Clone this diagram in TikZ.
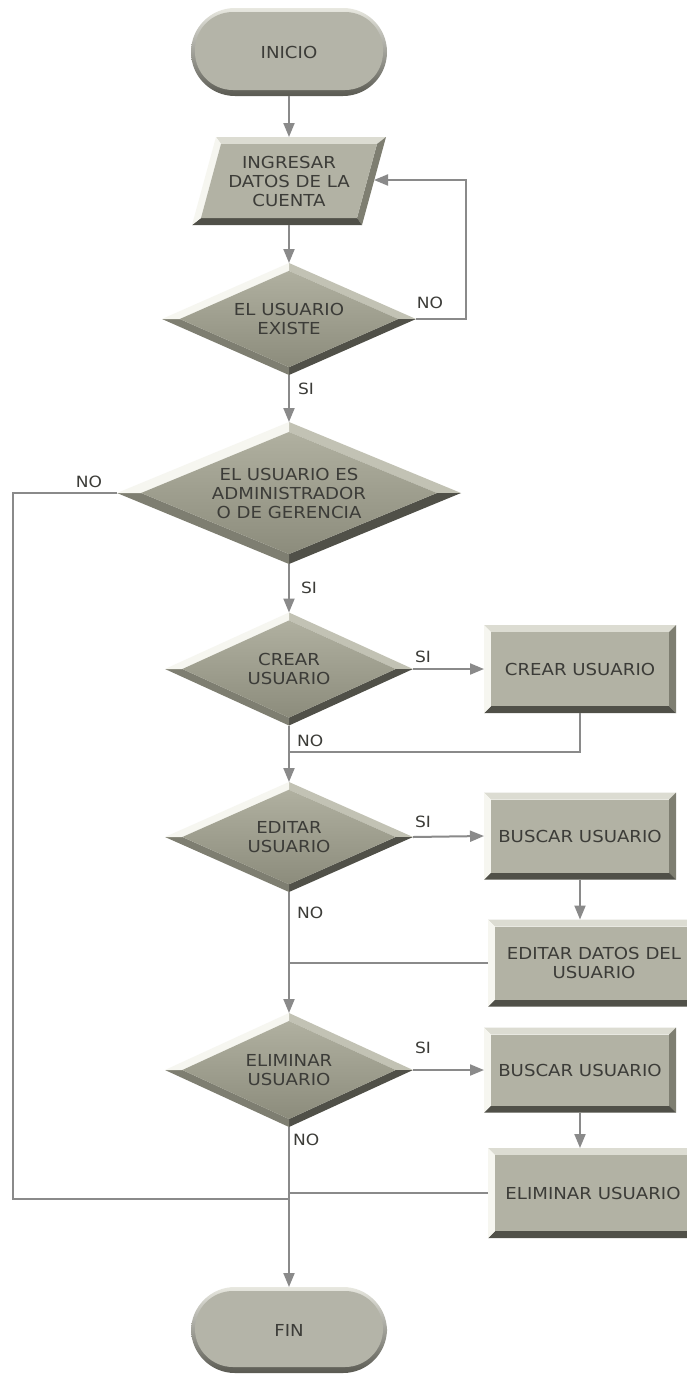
\documentclass[tikz,border=0pt]{standalone}
\usepackage{fontspec}
\setmainfont{DejaVu Sans}[FakeStretch=1.1]
\usetikzlibrary{arrows.meta,calc,backgrounds}

\definecolor{lineg}{HTML}{8A8A8A}
\definecolor{txt}{HTML}{3C3C38}
\definecolor{rectin}{HTML}{B2B2A4}
\definecolor{diatop}{HTML}{B0B0A0}
\definecolor{diabot}{HTML}{8C8C7C}
\definecolor{bvlight}{HTML}{F6F6F0}
\definecolor{bvtop}{HTML}{DCDCD2}
\definecolor{bvmid}{HTML}{C2C2B4}
\definecolor{bvmd}{HTML}{7E7E71}
\definecolor{bvdark}{HTML}{66665C}
\definecolor{bvdarker}{HTML}{505048}
\definecolor{termhi}{HTML}{E8E8E0}
\definecolor{termlo}{HTML}{5A5A52}
\definecolor{termin}{HTML}{B4B4A8}

% four bevel faces around an inner face: top, right, bottom, left, inner
\newcommand\facefill[5]{%
  \fill[#1] (bA)--(bB)--(bb)--(ba)--cycle;
  \fill[#2] (bB)--(bC)--(bc)--(bb)--cycle;
  \fill[#3] (bC)--(bD)--(bd)--(bc)--cycle;
  \fill[#4] (bD)--(bA)--(ba)--(bd)--cycle;
  \path[#5] (ba)--(bb)--(bc)--(bd)--cycle;}

\newcommand\rectbevel[1]{%
  \coordinate (bA) at (#1.north west); \coordinate (bB) at (#1.north east);
  \coordinate (bC) at (#1.south east); \coordinate (bD) at (#1.south west);
  \coordinate (ba) at ($(bA)+(7,7)$);  \coordinate (bb) at ($(bB)+(-7,7)$);
  \coordinate (bc) at ($(bC)+(-7,-7)$); \coordinate (bd) at ($(bD)+(7,-7)$);
  \facefill{bvtop}{bvmd}{bvdarker}{bvlight}{fill=rectin}}

\newcommand\diabevel[1]{%
  \coordinate (bA) at (#1.north); \coordinate (bB) at (#1.east);
  \coordinate (bC) at (#1.south); \coordinate (bD) at (#1.west);
  \coordinate (ba) at ($(#1.center)!0.86!(#1.north)$);
  \coordinate (bb) at ($(#1.center)!0.86!(#1.east)$);
  \coordinate (bc) at ($(#1.center)!0.86!(#1.south)$);
  \coordinate (bd) at ($(#1.center)!0.86!(#1.west)$);
  \facefill{bvmid}{bvdarker}{bvmd}{bvlight}{top color=diatop,bottom color=diabot}}

\newcommand\parabevel[1]{%
  \coordinate (bA) at ($(#1.north west)+(24,0)$); \coordinate (bB) at (#1.north east);
  \coordinate (bC) at ($(#1.south east)+(-24,0)$); \coordinate (bD) at (#1.south west);
  \coordinate (ba) at ($(bA)+(5,7)$);  \coordinate (bb) at ($(bB)+(-9,7)$);
  \coordinate (bc) at ($(bC)+(-5,-7)$); \coordinate (bd) at ($(bD)+(9,-7)$);
  \facefill{bvtop}{bvmd}{bvdarker}{bvlight}{fill=rectin}}

\newcommand\termshape[1]{%
  \shade[top color=termhi,bottom color=termlo,rounded corners=44pt]
    (#1.north west) rectangle (#1.south east);
  \fill[termin,rounded corners=38pt]
    ($(#1.north west)+(4,4)$) rectangle ($(#1.south east)+(-4,-6)$);}

\begin{document}
\begin{tikzpicture}[x=1pt,y=-1pt,
  every node/.style={inner sep=0pt,outer sep=0pt,text=txt,align=center,
    font=\fontsize{16.5}{19}\selectfont},
  sz/.style 2 args={minimum width=#1pt,minimum height=#2pt},
  lbl/.style={font=\fontsize{15.5}{18}\selectfont},
  ln/.style={draw=lineg,line width=2pt},
  arr/.style={ln,-{Triangle[length=14pt,width=11pt]},lineg}]

\useasboundingbox (0,0) rectangle (686,1374);

% shapes (text holders)
\node[sz={196}{88}] (ini) at (289,52) {INICIO};
\node[sz={194}{88}] (dat) at (289,181) {INGRESAR\\DATOS DE LA\\CUENTA};
\node[sz={254}{112}] (d1) at (289,319) {EL USUARIO\\EXISTE};
\node[sz={344}{142}] (d2) at (289,493) {EL USUARIO ES\\ADMINISTRADOR\\O DE GERENCIA};
\node[sz={248}{113}] (d3) at (289,669) {CREAR\\USUARIO};
\node[sz={192}{88}] (b1) at (580,669) {CREAR USUARIO};
\node[sz={248}{110}] (d4) at (289,837) {EDITAR\\USUARIO};
\node[sz={192}{87}] (b2) at (580,836) {BUSCAR USUARIO};
\node[sz={212}{87}] (b3) at (594,963) {EDITAR DATOS DEL\\USUARIO};
\node[sz={248}{114}] (d5) at (289,1070) {ELIMINAR\\USUARIO};
\node[sz={192}{85}] (b4) at (580,1070) {BUSCAR USUARIO};
\node[sz={210}{90}] (b5) at (593,1193) {ELIMINAR USUARIO};
\node[sz={196}{86}] (fin) at (289,1330) {FIN};

\begin{scope}[on background layer]
  \fill[white] (0,0) rectangle (686,1374);
  \termshape{ini}
  \termshape{fin}
  \parabevel{dat}
  \diabevel{d1}
  \diabevel{d2}
  \diabevel{d3}
  \diabevel{d4}
  \diabevel{d5}
  \rectbevel{b1}
  \rectbevel{b2}
  \rectbevel{b3}
  \rectbevel{b4}
  \rectbevel{b5}
\end{scope}

% junction points on the main vertical line
\coordinate (datR) at ($(dat.east)+(-12,-1)$);
\coordinate (jB) at (289,752);
\coordinate (jA) at (289,1199);

% connectors
\draw[arr] (ini.south) -- (ini.south |- dat.north);
\draw[arr] (dat.south) -- (d1.north);
\draw[arr] (d1.east) -- ++(50,0) |- (datR);
\draw[arr] (d1.south) -- (d2.north);
\draw[arr] (d2.south) -- (d3.north);
\draw[ln] (d2.west) -- ++(-104,0) |- (jA);
\draw[arr] (d3.east) -- (b1.west);
\draw[ln] (b1.south) |- (jB);
\draw[arr] (d3.south) -- (d4.north);
\draw[arr] (d4.east) -- (b2.west);
\draw[arr] (b2.south) -- (b2.south |- b3.north);
\draw[ln] (b3.west) -- (b3.west -| d4.south);
\draw[arr] (d4.south) -- (d5.north);
\draw[arr] (d5.east) -- (b4.west);
\draw[arr] (b4.south) -- (b4.south |- b5.north);
\draw[ln] (b5.west) -- (b5.west -| d5.south);
\draw[arr] (d5.south) -- (fin.north);

% branch labels
\node[lbl] (n1) at (430,303) {NO};
\node[lbl,anchor=west] (s1) at (298,389) {SI};
\node[lbl] (n2) at (89,482) {NO};
\node[lbl,anchor=west] (s2) at (301,588) {SI};
\node[lbl] (s3) at (423,657) {SI};
\node[lbl,anchor=west] (n3) at (297,741) {NO};
\node[lbl] (s4) at (423,822) {SI};
\node[lbl,anchor=west] (n4) at (297,913) {NO};
\node[lbl] (s5) at (423,1048) {SI};
\node[lbl,anchor=west] (n5) at (293,1140) {NO};
\end{tikzpicture}
\end{document}
